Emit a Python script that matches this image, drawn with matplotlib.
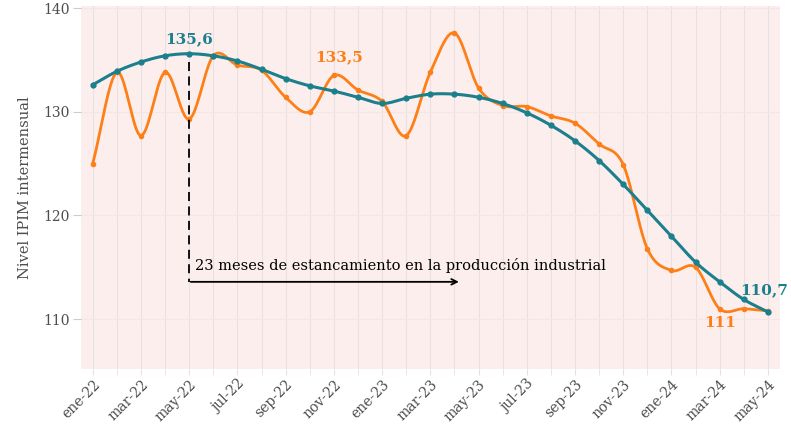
import numpy as np
import matplotlib
matplotlib.use("Agg")
import matplotlib.pyplot as plt

# Data (IPIM level, monthly ene-22 .. may-24)
months = ["ene-22", "feb-22", "mar-22", "abr-22", "may-22", "jun-22", "jul-22", "ago-22",
          "sep-22", "oct-22", "nov-22", "dic-22", "ene-23", "feb-23", "mar-23", "abr-23",
          "may-23", "jun-23", "jul-23", "ago-23", "sep-23", "oct-23", "nov-23", "dic-23",
          "ene-24", "feb-24", "mar-24", "abr-24", "may-24"]
ipim = [125.0, 133.8, 127.7, 133.8, 129.3, 135.4, 134.5, 134.0, 131.4, 130.0, 133.5, 132.1,
        131.0, 127.7, 133.8, 137.6, 132.3, 130.6, 130.5, 129.6, 128.9, 126.9, 124.9, 116.8,
        114.7, 115.0, 111.0, 111.0, 110.8]
trend = [132.6, 133.9, 134.8, 135.4, 135.6, 135.4, 134.9, 134.1, 133.2, 132.5, 132.0, 131.4,
         130.8, 131.3, 131.7, 131.7, 131.4, 130.8, 129.9, 128.7, 127.2, 125.3, 123.0, 120.5,
         118.0, 115.5, 113.6, 111.9, 110.7]
tick_labels = months[::2]

teal = "#1b7f8c"
orange = "#fd7f17"
grey = "#4d4d4d"


def smooth(y, n=20):
    # Catmull-Rom spline through the points, for drawing only
    y = np.asarray(y, dtype=float)
    p = np.concatenate([[2 * y[0] - y[1]], y, [2 * y[-1] - y[-2]]])
    xs, ys = [], []
    t = np.linspace(0, 1, n, endpoint=False)
    for i in range(1, len(p) - 2):
        p0, p1, p2, p3 = p[i - 1], p[i], p[i + 1], p[i + 2]
        seg = 0.5 * ((2 * p1) + (-p0 + p2) * t + (2 * p0 - 5 * p1 + 4 * p2 - p3) * t ** 2
                     + (-p0 + 3 * p1 - 3 * p2 + p3) * t ** 3)
        xs.extend(i - 1 + t)
        ys.extend(seg)
    xs.append(len(y) - 1)
    ys.append(y[-1])
    return np.array(xs), np.array(ys)


plt.rcParams['font.family'] = ['DejaVu Serif']

fig = plt.figure(figsize=(7.91, 4.30), dpi=100)
ax = fig.add_axes([0.102, 0.142, 0.884, 0.844])
ax.set_facecolor("#fdeeee")

x = np.arange(len(months))
ax.set_xlim(-0.5, 28.5)
ax.set_ylim(105.2, 140.2)

# grid
ax.set_xticks(x, minor=True)
ax.set_xticks(x[::2])
ax.set_xticklabels(tick_labels, rotation=45, ha="right", rotation_mode="anchor",
                   fontsize=10, color=grey)
ax.set_yticks([110, 120, 130, 140])
ax.set_yticklabels(["110", "120", "130", "140"], fontsize=10, color=grey)
ax.grid(True, which="both", axis="x", color="#e9e0e0", linewidth=0.8)
ax.grid(True, axis="y", color="#f3e6e6", linewidth=0.8)
ax.tick_params(axis="x", which="both", length=4, color="#e2e2e2", pad=2)
ax.tick_params(axis="y", length=6, color="#cccccc", pad=2)
for s in ax.spines.values():
    s.set_visible(False)

# series
sx, sy = smooth(ipim)
ax.plot(sx, sy, color=orange, linewidth=2.0, zorder=3)
ax.plot(x, ipim, "o", color=orange, markersize=3, zorder=3)
tx, ty = smooth(trend)
ax.plot(tx, ty, color=teal, linewidth=2.2, zorder=4)
ax.plot(x, trend, "o", color=teal, markersize=3.5, zorder=4)

# annotation: dashed line and arrow
ax.plot([4, 4], [134.8, 113.6], color="black", linestyle=(0, (5, 3)), linewidth=1.3, zorder=5)
ax.annotate("", xy=(15.3, 113.6), xytext=(3.95, 113.6),
            arrowprops=dict(arrowstyle="->", color="black", lw=1.3), zorder=5)
ax.text(4.25, 115.2, "23 meses de estancamiento en la producción industrial",
        fontsize=10.5, color="#000000", va="center", ha="left", zorder=6)

# value labels
ax.text(4, 137.0, "135,6", color=teal, fontsize=11, fontweight="bold", ha="center", va="center")
ax.text(10.2, 135.3, "133,5", color=orange, fontsize=11, fontweight="bold", ha="center", va="center")
ax.text(28.85, 112.8, "110,7", color=teal, fontsize=11, fontweight="bold", ha="right", va="center",
        clip_on=False)
ax.text(26.0, 109.6, "111", color=orange, fontsize=11, fontweight="bold", ha="center", va="center")

ax.set_ylabel("Nivel IPIM intermensual", fontsize=10.5, color=grey, labelpad=8)

fig.savefig("out.png", dpi=100)
